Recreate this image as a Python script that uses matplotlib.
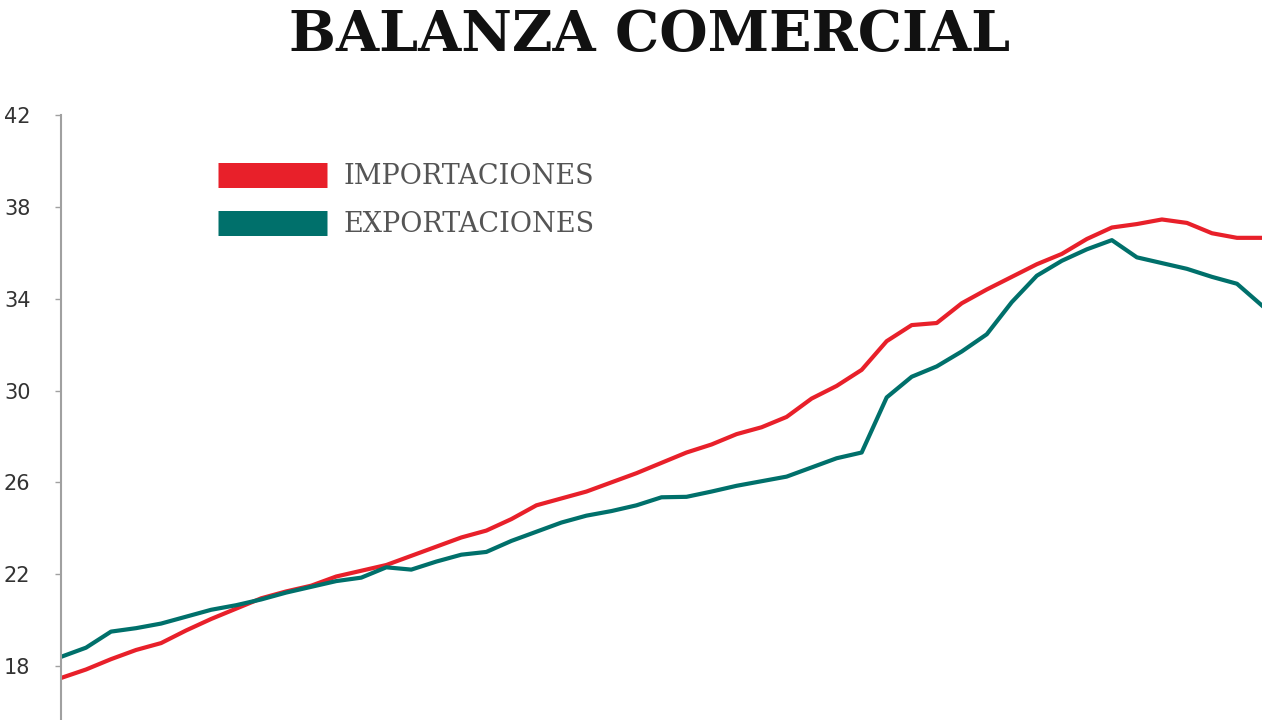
import matplotlib
matplotlib.use('Agg')
import matplotlib.pyplot as plt
from matplotlib.lines import Line2D

# Series (evenly spaced periods)
importaciones = [17.48, 17.85, 18.3, 18.7, 19.0, 19.55, 20.05, 20.5, 20.95, 21.25,
                 21.5, 21.9, 22.15, 22.4, 22.8, 23.2, 23.6, 23.9, 24.4, 25.0,
                 25.3, 25.6, 26.0, 26.4, 26.85, 27.3, 27.65, 28.1, 28.4, 28.85,
                 29.65, 30.2, 30.9, 32.15, 32.85, 32.94, 33.8, 34.4, 34.95, 35.5,
                 35.95, 36.6, 37.1, 37.25, 37.45, 37.3, 36.85, 36.65, 36.65]
exportaciones = [18.4, 18.8, 19.5, 19.65, 19.85, 20.15, 20.45, 20.65, 20.9, 21.2,
                 21.45, 21.7, 21.85, 22.3, 22.2, 22.55, 22.85, 22.97, 23.45, 23.85,
                 24.25, 24.55, 24.75, 25.0, 25.35, 25.37, 25.6, 25.85, 26.05, 26.25,
                 26.65, 27.05, 27.3, 29.7, 30.6, 31.05, 31.7, 32.45, 33.85, 35.0,
                 35.65, 36.15, 36.55, 35.8, 35.55, 35.3, 34.95, 34.65, 33.7]
periodos = list(range(len(importaciones)))
y_ticks = [18, 22, 26, 30, 34, 38, 42]

red = '#e8202a'
teal = '#00706b'

fig = plt.figure(figsize=(12.8, 7.2), dpi=100)
ax = fig.add_axes([61 / 1280, 0, 1201 / 1280, 605 / 720])

ax.plot(periodos, importaciones, color=red, linewidth=3)
ax.plot(periodos, exportaciones, color=teal, linewidth=3)

ax.set_xlim(0, len(periodos) - 1)
ax.set_ylim(15.65, 42)
ax.set_yticks(y_ticks)
ax.set_xticks([])

# Only the left axis line is visible
for side in ['top', 'right', 'bottom']:
    ax.spines[side].set_visible(False)
ax.spines['left'].set_color('#a0a0a0')
ax.spines['left'].set_linewidth(1.5)
ax.tick_params(axis='y', direction='out', length=4, width=1, color='#a0a0a0',
               pad=18, labelsize=15, labelcolor='#333333')
for lbl in ax.get_yticklabels():
    lbl.set_family(['Liberation Sans Narrow', 'DejaVu Sans'])

handles = [Line2D([0], [0], color=red, linewidth=18, solid_capstyle='butt'),
           Line2D([0], [0], color=teal, linewidth=18, solid_capstyle='butt')]
leg = ax.legend(handles, ['IMPORTACIONES', 'EXPORTACIONES'], loc='upper left',
                bbox_to_anchor=(133 / 1201, 1 - 24 / 605), frameon=False,
                handlelength=4.0, handletextpad=0.63, labelspacing=0.78,
                prop={'family': 'DejaVu Serif', 'size': 19.5})
for t in leg.get_texts():
    t.set_color('#555555')

fig.text(650 / 1280, 1 - 36 / 720, 'BALANZA COMERCIAL', ha='center', va='center',
         fontsize=40, fontweight='bold', family='DejaVu Serif', color='#111111')

fig.savefig('out.png', dpi=100)
